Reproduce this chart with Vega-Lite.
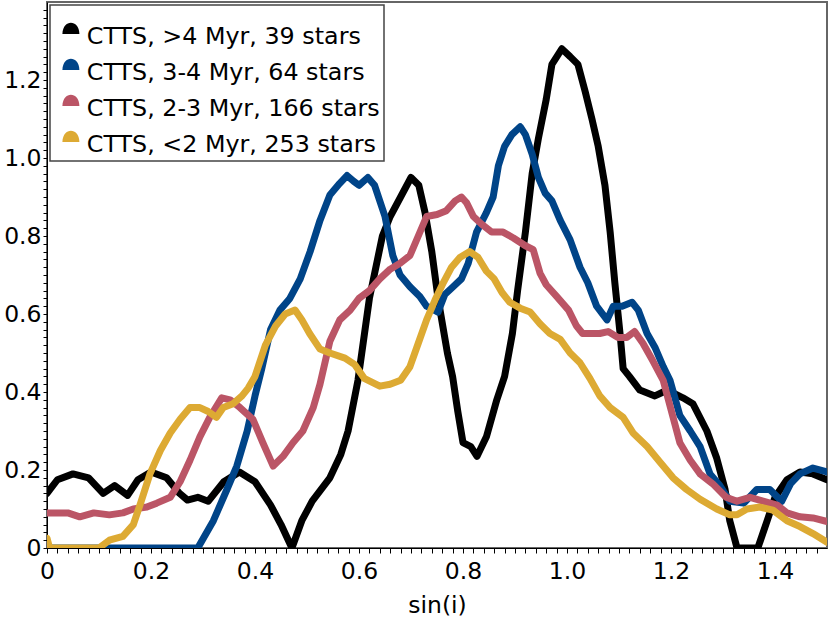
{
  "$schema": "https://vega.github.io/schema/vega-lite/v6.json",
  "width": 780,
  "height": 546,
  "autosize": {"type": "none"},
  "padding": {"left": 47, "top": 2, "right": 3, "bottom": 75},
  "config": {
    "font": "DejaVu Sans",
    "view": {"stroke": "#666666", "strokeWidth": 2},
    "axis": {"grid": false, "domainColor": "#000000", "tickColor": "#000000", "labelColor": "#000000", "titleColor": "#000000", "labelFlush": false, "labelOverlap": false}
  },
  "data": {"values": [
    {"s":"g4","x":0,"y":0.14},{"s":"g4","x":0.02,"y":0.175},{"s":"g4","x":0.05,"y":0.19},{"s":"g4","x":0.08,"y":0.18},{"s":"g4","x":0.108,"y":0.14},{"s":"g4","x":0.13,"y":0.16},{"s":"g4","x":0.155,"y":0.135},{"s":"g4","x":0.175,"y":0.175},{"s":"g4","x":0.2,"y":0.195},{"s":"g4","x":0.23,"y":0.18},{"s":"g4","x":0.255,"y":0.14},{"s":"g4","x":0.27,"y":0.123},{"s":"g4","x":0.29,"y":0.13},{"s":"g4","x":0.31,"y":0.12},{"s":"g4","x":0.34,"y":0.17},{"s":"g4","x":0.37,"y":0.195},{"s":"g4","x":0.4,"y":0.17},{"s":"g4","x":0.43,"y":0.11},{"s":"g4","x":0.45,"y":0.06},{"s":"g4","x":0.471,"y":0.0},{"s":"g4","x":0.49,"y":0.07},{"s":"g4","x":0.51,"y":0.12},{"s":"g4","x":0.544,"y":0.18},{"s":"g4","x":0.565,"y":0.24},{"s":"g4","x":0.579,"y":0.3},{"s":"g4","x":0.598,"y":0.43},{"s":"g4","x":0.62,"y":0.64},{"s":"g4","x":0.645,"y":0.8},{"s":"g4","x":0.66,"y":0.85},{"s":"g4","x":0.68,"y":0.9},{"s":"g4","x":0.7,"y":0.95},{"s":"g4","x":0.715,"y":0.93},{"s":"g4","x":0.727,"y":0.86},{"s":"g4","x":0.74,"y":0.76},{"s":"g4","x":0.752,"y":0.64},{"s":"g4","x":0.77,"y":0.5},{"s":"g4","x":0.78,"y":0.44},{"s":"g4","x":0.79,"y":0.35},{"s":"g4","x":0.8,"y":0.27},{"s":"g4","x":0.815,"y":0.26},{"s":"g4","x":0.827,"y":0.235},{"s":"g4","x":0.845,"y":0.285},{"s":"g4","x":0.865,"y":0.38},{"s":"g4","x":0.88,"y":0.44},{"s":"g4","x":0.895,"y":0.55},{"s":"g4","x":0.905,"y":0.66},{"s":"g4","x":0.92,"y":0.81},{"s":"g4","x":0.933,"y":0.96},{"s":"g4","x":0.945,"y":1.05},{"s":"g4","x":0.96,"y":1.15},{"s":"g4","x":0.971,"y":1.24},{"s":"g4","x":0.99,"y":1.28},{"s":"g4","x":1.006,"y":1.26},{"s":"g4","x":1.021,"y":1.24},{"s":"g4","x":1.035,"y":1.17},{"s":"g4","x":1.048,"y":1.1},{"s":"g4","x":1.06,"y":1.03},{"s":"g4","x":1.073,"y":0.93},{"s":"g4","x":1.083,"y":0.81},{"s":"g4","x":1.092,"y":0.68},{"s":"g4","x":1.102,"y":0.55},{"s":"g4","x":1.108,"y":0.46},{"s":"g4","x":1.12,"y":0.44},{"s":"g4","x":1.14,"y":0.405},{"s":"g4","x":1.169,"y":0.39},{"s":"g4","x":1.185,"y":0.4},{"s":"g4","x":1.2,"y":0.4},{"s":"g4","x":1.223,"y":0.385},{"s":"g4","x":1.242,"y":0.37},{"s":"g4","x":1.269,"y":0.3},{"s":"g4","x":1.288,"y":0.23},{"s":"g4","x":1.304,"y":0.15},{"s":"g4","x":1.313,"y":0.07},{"s":"g4","x":1.327,"y":0.0},{"s":"g4","x":1.367,"y":0.0},{"s":"g4","x":1.385,"y":0.07},{"s":"g4","x":1.4,"y":0.13},{"s":"g4","x":1.423,"y":0.175},{"s":"g4","x":1.448,"y":0.195},{"s":"g4","x":1.473,"y":0.19},{"s":"g4","x":1.5,"y":0.175},

    {"s":"g34","x":0,"y":0},{"s":"g34","x":0.29,"y":0},{"s":"g34","x":0.32,"y":0.07},{"s":"g34","x":0.346,"y":0.15},{"s":"g34","x":0.365,"y":0.21},{"s":"g34","x":0.385,"y":0.3},{"s":"g34","x":0.4,"y":0.39},{"s":"g34","x":0.413,"y":0.46},{"s":"g34","x":0.43,"y":0.56},{"s":"g34","x":0.448,"y":0.61},{"s":"g34","x":0.467,"y":0.64},{"s":"g34","x":0.487,"y":0.69},{"s":"g34","x":0.506,"y":0.76},{"s":"g34","x":0.525,"y":0.84},{"s":"g34","x":0.544,"y":0.905},{"s":"g34","x":0.563,"y":0.935},{"s":"g34","x":0.577,"y":0.955},{"s":"g34","x":0.59,"y":0.94},{"s":"g34","x":0.6,"y":0.93},{"s":"g34","x":0.617,"y":0.95},{"s":"g34","x":0.63,"y":0.93},{"s":"g34","x":0.65,"y":0.85},{"s":"g34","x":0.665,"y":0.75},{"s":"g34","x":0.679,"y":0.7},{"s":"g34","x":0.698,"y":0.67},{"s":"g34","x":0.717,"y":0.645},{"s":"g34","x":0.73,"y":0.62},{"s":"g34","x":0.752,"y":0.605},{"s":"g34","x":0.765,"y":0.65},{"s":"g34","x":0.781,"y":0.67},{"s":"g34","x":0.797,"y":0.69},{"s":"g34","x":0.81,"y":0.73},{"s":"g34","x":0.826,"y":0.81},{"s":"g34","x":0.845,"y":0.86},{"s":"g34","x":0.858,"y":0.9},{"s":"g34","x":0.868,"y":0.98},{"s":"g34","x":0.88,"y":1.03},{"s":"g34","x":0.894,"y":1.06},{"s":"g34","x":0.91,"y":1.08},{"s":"g34","x":0.92,"y":1.06},{"s":"g34","x":0.933,"y":1.01},{"s":"g34","x":0.945,"y":0.95},{"s":"g34","x":0.958,"y":0.91},{"s":"g34","x":0.971,"y":0.89},{"s":"g34","x":0.987,"y":0.84},{"s":"g34","x":1.006,"y":0.79},{"s":"g34","x":1.025,"y":0.72},{"s":"g34","x":1.04,"y":0.68},{"s":"g34","x":1.057,"y":0.62},{"s":"g34","x":1.077,"y":0.585},{"s":"g34","x":1.089,"y":0.62},{"s":"g34","x":1.106,"y":0.62},{"s":"g34","x":1.125,"y":0.63},{"s":"g34","x":1.137,"y":0.61},{"s":"g34","x":1.154,"y":0.55},{"s":"g34","x":1.169,"y":0.515},{"s":"g34","x":1.185,"y":0.465},{"s":"g34","x":1.198,"y":0.43},{"s":"g34","x":1.217,"y":0.34},{"s":"g34","x":1.237,"y":0.3},{"s":"g34","x":1.256,"y":0.26},{"s":"g34","x":1.275,"y":0.19},{"s":"g34","x":1.294,"y":0.16},{"s":"g34","x":1.313,"y":0.12},{"s":"g34","x":1.34,"y":0.115},{"s":"g34","x":1.365,"y":0.15},{"s":"g34","x":1.39,"y":0.15},{"s":"g34","x":1.413,"y":0.12},{"s":"g34","x":1.43,"y":0.165},{"s":"g34","x":1.448,"y":0.19},{"s":"g34","x":1.473,"y":0.205},{"s":"g34","x":1.5,"y":0.195},

    {"s":"g23","x":0,"y":0.09},{"s":"g23","x":0.04,"y":0.09},{"s":"g23","x":0.063,"y":0.08},{"s":"g23","x":0.09,"y":0.09},{"s":"g23","x":0.12,"y":0.085},{"s":"g23","x":0.146,"y":0.09},{"s":"g23","x":0.166,"y":0.1},{"s":"g23","x":0.192,"y":0.105},{"s":"g23","x":0.211,"y":0.115},{"s":"g23","x":0.237,"y":0.13},{"s":"g23","x":0.256,"y":0.17},{"s":"g23","x":0.275,"y":0.225},{"s":"g23","x":0.294,"y":0.285},{"s":"g23","x":0.313,"y":0.335},{"s":"g23","x":0.336,"y":0.385},{"s":"g23","x":0.352,"y":0.38},{"s":"g23","x":0.371,"y":0.36},{"s":"g23","x":0.396,"y":0.33},{"s":"g23","x":0.415,"y":0.27},{"s":"g23","x":0.435,"y":0.21},{"s":"g23","x":0.454,"y":0.235},{"s":"g23","x":0.473,"y":0.27},{"s":"g23","x":0.492,"y":0.3},{"s":"g23","x":0.512,"y":0.36},{"s":"g23","x":0.525,"y":0.42},{"s":"g23","x":0.544,"y":0.53},{"s":"g23","x":0.563,"y":0.585},{"s":"g23","x":0.583,"y":0.61},{"s":"g23","x":0.6,"y":0.64},{"s":"g23","x":0.62,"y":0.66},{"s":"g23","x":0.64,"y":0.69},{"s":"g23","x":0.66,"y":0.715},{"s":"g23","x":0.679,"y":0.73},{"s":"g23","x":0.698,"y":0.75},{"s":"g23","x":0.714,"y":0.8},{"s":"g23","x":0.73,"y":0.85},{"s":"g23","x":0.75,"y":0.855},{"s":"g23","x":0.768,"y":0.865},{"s":"g23","x":0.785,"y":0.89},{"s":"g23","x":0.797,"y":0.9},{"s":"g23","x":0.807,"y":0.885},{"s":"g23","x":0.82,"y":0.85},{"s":"g23","x":0.836,"y":0.83},{"s":"g23","x":0.855,"y":0.81},{"s":"g23","x":0.877,"y":0.81},{"s":"g23","x":0.897,"y":0.795},{"s":"g23","x":0.92,"y":0.775},{"s":"g23","x":0.935,"y":0.765},{"s":"g23","x":0.948,"y":0.705},{"s":"g23","x":0.96,"y":0.675},{"s":"g23","x":0.98,"y":0.645},{"s":"g23","x":1.003,"y":0.61},{"s":"g23","x":1.018,"y":0.57},{"s":"g23","x":1.03,"y":0.55},{"s":"g23","x":1.048,"y":0.55},{"s":"g23","x":1.063,"y":0.55},{"s":"g23","x":1.079,"y":0.555},{"s":"g23","x":1.098,"y":0.54},{"s":"g23","x":1.115,"y":0.54},{"s":"g23","x":1.13,"y":0.555},{"s":"g23","x":1.146,"y":0.525},{"s":"g23","x":1.165,"y":0.48},{"s":"g23","x":1.185,"y":0.43},{"s":"g23","x":1.204,"y":0.335},{"s":"g23","x":1.217,"y":0.27},{"s":"g23","x":1.237,"y":0.225},{"s":"g23","x":1.256,"y":0.19},{"s":"g23","x":1.28,"y":0.165},{"s":"g23","x":1.306,"y":0.13},{"s":"g23","x":1.327,"y":0.12},{"s":"g23","x":1.352,"y":0.13},{"s":"g23","x":1.377,"y":0.12},{"s":"g23","x":1.404,"y":0.11},{"s":"g23","x":1.423,"y":0.09},{"s":"g23","x":1.448,"y":0.08},{"s":"g23","x":1.473,"y":0.077},{"s":"g23","x":1.5,"y":0.068},

    {"s":"g2","x":0,"y":0.025},{"s":"g2","x":0.005,"y":0.0},{"s":"g2","x":0.1,"y":0.0},{"s":"g2","x":0.12,"y":0.02},{"s":"g2","x":0.146,"y":0.03},{"s":"g2","x":0.166,"y":0.06},{"s":"g2","x":0.18,"y":0.115},{"s":"g2","x":0.198,"y":0.19},{"s":"g2","x":0.218,"y":0.25},{"s":"g2","x":0.237,"y":0.295},{"s":"g2","x":0.256,"y":0.33},{"s":"g2","x":0.275,"y":0.36},{"s":"g2","x":0.294,"y":0.36},{"s":"g2","x":0.31,"y":0.35},{"s":"g2","x":0.326,"y":0.335},{"s":"g2","x":0.339,"y":0.36},{"s":"g2","x":0.358,"y":0.37},{"s":"g2","x":0.375,"y":0.39},{"s":"g2","x":0.387,"y":0.41},{"s":"g2","x":0.4,"y":0.44},{"s":"g2","x":0.42,"y":0.52},{"s":"g2","x":0.44,"y":0.57},{"s":"g2","x":0.458,"y":0.6},{"s":"g2","x":0.477,"y":0.61},{"s":"g2","x":0.49,"y":0.585},{"s":"g2","x":0.505,"y":0.55},{"s":"g2","x":0.525,"y":0.51},{"s":"g2","x":0.544,"y":0.5},{"s":"g2","x":0.573,"y":0.487},{"s":"g2","x":0.592,"y":0.47},{"s":"g2","x":0.61,"y":0.435},{"s":"g2","x":0.64,"y":0.415},{"s":"g2","x":0.66,"y":0.42},{"s":"g2","x":0.68,"y":0.43},{"s":"g2","x":0.698,"y":0.465},{"s":"g2","x":0.714,"y":0.525},{"s":"g2","x":0.73,"y":0.585},{"s":"g2","x":0.746,"y":0.635},{"s":"g2","x":0.762,"y":0.68},{"s":"g2","x":0.778,"y":0.72},{"s":"g2","x":0.794,"y":0.745},{"s":"g2","x":0.813,"y":0.76},{"s":"g2","x":0.829,"y":0.745},{"s":"g2","x":0.845,"y":0.71},{"s":"g2","x":0.86,"y":0.69},{"s":"g2","x":0.875,"y":0.655},{"s":"g2","x":0.89,"y":0.63},{"s":"g2","x":0.91,"y":0.615},{"s":"g2","x":0.929,"y":0.605},{"s":"g2","x":0.948,"y":0.575},{"s":"g2","x":0.967,"y":0.55},{"s":"g2","x":0.987,"y":0.535},{"s":"g2","x":1.006,"y":0.5},{"s":"g2","x":1.025,"y":0.475},{"s":"g2","x":1.044,"y":0.435},{"s":"g2","x":1.063,"y":0.39},{"s":"g2","x":1.083,"y":0.36},{"s":"g2","x":1.108,"y":0.335},{"s":"g2","x":1.127,"y":0.295},{"s":"g2","x":1.154,"y":0.26},{"s":"g2","x":1.179,"y":0.22},{"s":"g2","x":1.204,"y":0.18},{"s":"g2","x":1.23,"y":0.15},{"s":"g2","x":1.256,"y":0.125},{"s":"g2","x":1.288,"y":0.1},{"s":"g2","x":1.313,"y":0.085},{"s":"g2","x":1.327,"y":0.085},{"s":"g2","x":1.346,"y":0.1},{"s":"g2","x":1.371,"y":0.105},{"s":"g2","x":1.396,"y":0.097},{"s":"g2","x":1.423,"y":0.07},{"s":"g2","x":1.448,"y":0.055},{"s":"g2","x":1.473,"y":0.037},{"s":"g2","x":1.5,"y":0.015}
  ]},
  "mark": {"type": "line", "strokeWidth": 7, "strokeCap": "round", "strokeJoin": "round", "clip": true},
  "encoding": {
    "x": {"field": "x", "type": "quantitative", "scale": {"domain": [0, 1.5], "nice": false, "zero": false},
      "axis": {"orient": "bottom",
        "values": [0,0.02,0.04,0.06,0.08,0.1,0.12,0.14,0.16,0.18,0.2,0.22,0.24,0.26,0.28,0.3,0.32,0.34,0.36,0.38,0.4,0.42,0.44,0.46,0.48,0.5,0.52,0.54,0.56,0.58,0.6,0.62,0.64,0.66,0.68,0.7,0.72,0.74,0.76,0.78,0.8,0.82,0.84,0.86,0.88,0.9,0.92,0.94,0.96,0.98,1.0,1.02,1.04,1.06,1.08,1.1,1.12,1.14,1.16,1.18,1.2,1.22,1.24,1.26,1.28,1.3,1.32,1.34,1.36,1.38,1.4,1.42,1.44,1.46,1.48],
        "labelExpr": "abs(datum.value*5 - round(datum.value*5)) > 0.01 ? '' : (datum.value == 0 ? '0' : format(datum.value, '.1f'))",
        "tickSize": 5, "labelFontSize": 23.5, "labelPadding": 6, "title": "sin(i)", "titleFontSize": 23.5, "titleFontWeight": "normal", "titlePadding": 11,
        "encode": {"ticks": {"update": {"y2": {"signal": "abs(datum.value*5 - round(datum.value*5)) > 0.01 ? 2.5 : 5"}}}}}},
    "y": {"field": "y", "type": "quantitative", "scale": {"domain": [0, 1.4], "nice": false, "zero": false},
      "axis": {"orient": "left",
        "values": [0,0.02,0.04,0.06,0.08,0.1,0.12,0.14,0.16,0.18,0.2,0.22,0.24,0.26,0.28,0.3,0.32,0.34,0.36,0.38,0.4,0.42,0.44,0.46,0.48,0.5,0.52,0.54,0.56,0.58,0.6,0.62,0.64,0.66,0.68,0.7,0.72,0.74,0.76,0.78,0.8,0.82,0.84,0.86,0.88,0.9,0.92,0.94,0.96,0.98,1.0,1.02,1.04,1.06,1.08,1.1,1.12,1.14,1.16,1.18,1.2,1.22,1.24,1.26,1.28,1.3,1.32,1.34,1.36,1.38],
        "labelExpr": "abs(datum.value*5 - round(datum.value*5)) > 0.01 ? '' : (datum.value == 0 ? '0' : format(datum.value, '.1f'))",
        "tickSize": 4, "labelFontSize": 23.5, "labelPadding": 2, "title": null,
        "encode": {"ticks": {"update": {"x2": {"signal": "abs(datum.value*5 - round(datum.value*5)) > 0.01 ? -2.5 : -4"}}}}}},
    "color": {"field": "s", "type": "nominal",
      "scale": {"domain": ["g4", "g34", "g23", "g2"], "range": ["#000000", "#004488", "#BB5566", "#DDAA33"]},
      "legend": {
        "orient": "top-left", "offset": 3, "title": " ", "titleFontSize": 10, "titlePadding": 6, "padding": 4,
        "fillColor": "#ffffff", "strokeColor": "#444444",
        "labelFontSize": 23.8, "labelColor": "#000000", "labelOffset": 4, "rowPadding": 9,
        "symbolOffset": 5,
        "symbolSize": 289, "symbolType": "M-1,-0.35 C-0.95,-2.1 0.95,-2.1 1,-0.35 Z",
        "labelLimit": 0,
        "labelExpr": "datum.value == 'g4' ? 'CTTS, >4 Myr, 39 stars' : datum.value == 'g34' ? 'CTTS, 3-4 Myr, 64 stars' : datum.value == 'g23' ? 'CTTS, 2-3 Myr, 166 stars' : 'CTTS, <2 Myr, 253 stars'",
        "encode": {
          "legend": {"update": {"strokeWidth": {"value": 1.5}}},
          "symbols": {"update": {"fill": {"scale": "color", "field": "value"}, "stroke": {"value": "transparent"}, "strokeWidth": {"value": 0}, "opacity": {"value": 1}}}
        }
      }}
  }
}
